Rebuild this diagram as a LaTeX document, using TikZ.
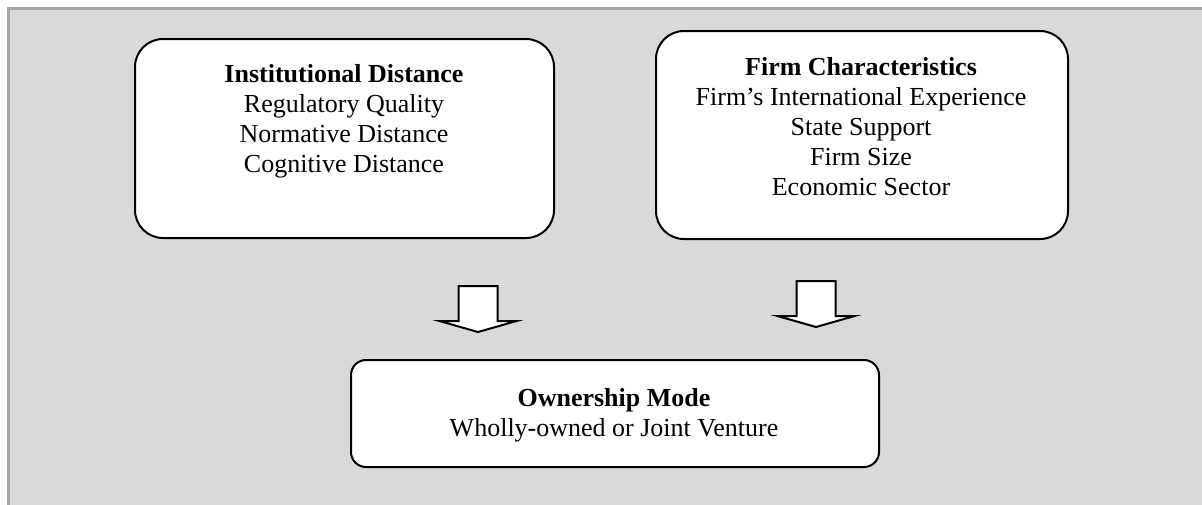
\documentclass[tikz,border=0pt]{standalone}
\usepackage{fontspec}
\setmainfont{Liberation Serif}
\definecolor{framegray}{HTML}{A6A6A6}
\definecolor{bggray}{HTML}{D9D9D9}
\begin{document}
\begin{tikzpicture}[x=1pt,y=-1pt,
  box/.style={draw=black, line width=2pt, fill=white, rounded corners=28pt, inner sep=0pt, anchor=north west},
  obox/.style={draw=black, line width=2pt, fill=white, rounded corners=15pt, inner sep=0pt, anchor=north west},
  txt/.style={align=center, inner sep=0pt, anchor=north, font=\fontsize{26}{30}\selectfont},
  barrow/.style={draw=black, line width=2pt, fill=white, line join=miter},
  downarrow/.pic={\draw[barrow] (-19.5,0) -- (-19.5,35) -- (-38.5,35) -- (0,46) -- (38.5,35) -- (19.5,35) -- (19.5,0) -- cycle;}]
\useasboundingbox (0,0) rectangle (1202,504);
\begin{scope}
\clip (0,0) rectangle (1202,504);
\fill[white] (0,0) rectangle (1202,504);
\draw[draw=framegray, fill=bggray, line width=2.5pt] (8.5,8.5) rectangle (1215,520);
\end{scope}
% top boxes
\node[box, minimum width=419pt, minimum height=199pt] (inst) at (134,38) {};
\node[box, minimum width=412pt, minimum height=208pt] (firm) at (655,30) {};
\node[txt] (instT) at (344,64) {\textbf{Institutional Distance}\\Regulatory Quality\\Normative Distance\\Cognitive Distance};
\node[txt] (firmT) at (861,57) {\textbf{Firm Characteristics}\\Firm’s International Experience\\State Support\\Firm Size\\Economic Sector};
% bottom box
\node[obox, minimum width=528pt, minimum height=107pt] (own) at (350,359) {};
\node[txt] (ownT) at (614,388) {\textbf{Ownership Mode}\\Wholly-owned or Joint Venture};
% block arrows
\pic at (478,286) {downarrow};
\pic at (816,281) {downarrow};
\end{tikzpicture}
\end{document}
